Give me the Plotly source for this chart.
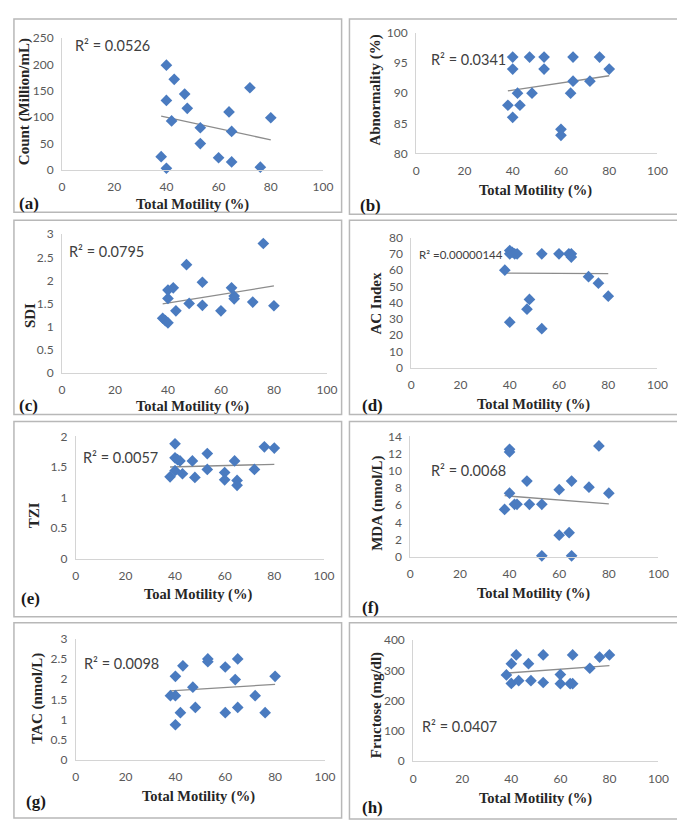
import plotly.graph_objects as go

# ---------------- data ----------------
trend_x = [38, 80]

a_x = [38, 40, 40, 40, 42, 43, 47, 48, 53, 53, 60, 64, 65, 65, 72, 76, 80]
a_y = [25, 199, 132, 3, 93, 172, 144, 117, 80, 50, 23, 110, 73, 15, 156, 5, 99]
a_trend = [102, 57]

b_x = [38, 40, 40, 40, 42, 43, 47, 48, 53, 53, 60, 60, 64, 65, 65, 72, 76, 80]
b_y = [88, 96, 94, 86, 90, 88, 96, 90, 96, 94, 84, 83, 90, 96, 92, 92, 96, 94]
b_trend = [90.4, 92.9]

c_x = [38, 39, 40, 40, 40, 42, 43, 47, 48, 53, 53, 60, 64, 65, 65, 72, 76, 80]
c_y = [1.18, 1.13, 1.08, 1.61, 1.79, 1.84, 1.34, 2.34, 1.50, 1.96, 1.46, 1.34, 1.84, 1.66, 1.60, 1.53, 2.80, 1.45]
c_trend = [1.49, 1.88]

d_x = [38, 40, 40, 40, 41, 42, 43, 47, 48, 53, 53, 60, 64, 65, 65, 72, 76, 80]
d_y = [60, 72, 70, 28, 71, 70, 70, 36, 42, 70, 24, 70, 70, 70, 68, 56, 52, 44]
d_trend = [58.2, 57.9]

e_x = [38, 40, 40, 40, 41, 42, 43, 47, 48, 53, 53, 60, 60, 64, 65, 65, 72, 76, 80]
e_y = [1.34, 1.88, 1.65, 1.44, 1.62, 1.60, 1.39, 1.60, 1.33, 1.72, 1.46, 1.41, 1.29, 1.60, 1.28, 1.20, 1.46, 1.83, 1.81]
e_trend = [1.50, 1.545]

f_x = [38, 40, 40, 40, 42, 43, 47, 48, 53, 53, 60, 60, 64, 65, 65, 72, 76, 80]
f_y = [5.5, 12.5, 12.2, 7.4, 6.1, 6.1, 8.8, 6.1, 6.1, 0.1, 7.8, 2.5, 2.8, 8.8, 0.1, 8.1, 12.9, 7.4]
f_trend = [7.1, 6.15]

g_x = [38, 40, 40, 40, 42, 43, 47, 48, 53, 53, 60, 60, 64, 65, 65, 72, 76, 80]
g_y = [1.59, 1.59, 2.07, 0.87, 1.17, 2.33, 1.80, 1.30, 2.50, 2.43, 2.30, 1.17, 1.99, 2.50, 1.30, 1.59, 1.17, 2.07]
g_trend = [1.71, 1.87]

h_x = [38, 40, 40, 42, 43, 47, 48, 53, 53, 60, 60, 64, 65, 65, 72, 76, 80]
h_y = [285, 257, 322, 351, 266, 322, 266, 351, 260, 286, 256, 256, 256, 351, 307, 344, 351]
h_trend = [291, 316]

y_titles = ["Count (Million/mL)", "Abnormality (%)", "SDI", "AC Index",
            "TZI", "MDA (nmol/L)", "TAC (nmol/L)", "Fructose (mg/dl)"]
x_titles = ["Total Motility (%)", "Total Motility (%)", "Total Motility (%)", "Total Motility (%)",
            "Toal Motility (%)", "Total Motility (%)", "Total Motility (%)", "Total Motility (%)"]
r2_labels = ["R² = 0.0526", "R² = 0.0341", "R² = 0.0795", "R² =0.00000144",
             "R² = 0.0057", "R² = 0.0068", "R² = 0.0098", "R² = 0.0407"]
panel_labels = ["(a)", "(b)", "(c)", "(d)", "(e)", "(f)", "(g)", "(h)"]
y_ranges = [[0, 250], [80, 100], [0, 3], [0, 80], [0, 2], [0, 14], [0, 3], [0, 400]]
y_dticks = [50, 5, 0.5, 10, 0.5, 2, 0.5, 100]
r2_pos = [(4.4, 236), (5.4, 95.6), (1.9, 2.62), (2.3, 69.3), (2.0, 1.66), (7.6, 10.0), (2.6, 2.38), (2.9, 116)]

xs = [a_x, b_x, c_x, d_x, e_x, f_x, g_x, h_x]
ys = [a_y, b_y, c_y, d_y, e_y, f_y, g_y, h_y]
trends = [a_trend, b_trend, c_trend, d_trend, e_trend, f_trend, g_trend, h_trend]

# ---------------- layout geometry (pixels) ----------------
W, H = 685, 823
# plot areas: x_left, x_right, y_top, y_bottom
areas = [
    (52, 318, 22.7, 156.7), (413, 659, 17.3, 140.0),
    (52, 322, 222.3, 363.3), (408, 659, 225.7, 358.3),
    (66, 319, 428.3, 552.7), (407, 660, 428.3, 550.7),
    (66, 320, 634.3, 757.7), (410, 660, 635.7, 759.0),
]
boxes = [
    (3, 337, 3, 200), (345, 680, 3, 202),
    (3, 337, 208, 406), (345, 680, 208, 406),
    (3, 337, 413, 612), (345, 680, 413, 612),
    (3, 337, 618, 817), (345, 680, 618, 818),
]
xtitle_pos = [(185, 192), (535, 178), (185, 398), (533, 396), (191, 589), (533, 588), (191, 795), (535, 797)]
ytitle_pos = [(14, 87), (372, 75), (20, 305), (372, 292), (23, 509), (374, 496), (27, 695), (372, 702)]
plabel_pos = [(6, 191), (354, 193), (6, 397), (356, 397), (8, 593), (356, 602), (13, 800), (356, 806)]

def px(x):
    return x / W

def py(y):
    return 1 - y / H

MARK = "#4a7bc0"
AXC = "#d4d4d4"
TICKF = dict(family="Lato, 'Liberation Sans', sans-serif", size=12, color="#595959")
TITLEF = dict(family="'Liberation Serif', serif", size=14.5, color="#262626")
YTITLEF = dict(family="'Liberation Serif', serif", size=15, color="#262626")

fig = go.Figure()
layout = dict(
    width=W, height=H, margin=dict(l=0, r=0, t=0, b=0),
    paper_bgcolor="white", plot_bgcolor="white", showlegend=False,
    annotations=[], shapes=[],
)

for i in range(8):
    n = "" if i == 0 else str(i + 1)
    xa, ya = "x" + n, "y" + n
    fig.add_trace(go.Scatter(
        x=trend_x, y=trends[i], mode="lines", xaxis=xa, yaxis=ya,
        line=dict(color="#8c8c8c", width=1.3), hoverinfo="skip"))
    fig.add_trace(go.Scatter(
        x=xs[i], y=ys[i], mode="markers", xaxis=xa, yaxis=ya, cliponaxis=False,
        marker=dict(symbol="diamond", size=9, color=MARK, line=dict(width=0))))
    x0, x1, yt, yb = areas[i]
    layout["xaxis" + n] = dict(
        domain=[px(x0), px(x1)], range=[0, 100], dtick=20, tick0=0, anchor=ya,
        showgrid=False, zeroline=False, showline=True, linecolor=AXC, linewidth=1,
        ticks="", tickfont=TICKF, ticklabelstandoff=6, fixedrange=True)
    layout["yaxis" + n] = dict(
        domain=[py(yb), py(yt)], range=y_ranges[i], dtick=y_dticks[i], tick0=y_ranges[i][0],
        anchor=xa, showgrid=False, zeroline=False, showline=True, linecolor=AXC, linewidth=1,
        ticks="", tickfont=TICKF, ticklabelstandoff=5, fixedrange=True)
    # panel border
    bx0, bx1, by0, by1 = boxes[i]
    layout["shapes"].append(dict(
        type="rect", xref="paper", yref="paper",
        x0=px(bx0), x1=px(bx1), y0=py(by1), y1=py(by0),
        line=dict(color="#b8b8b8", width=1.5), fillcolor="rgba(0,0,0,0)", layer="below"))
    # titles
    tx, ty = xtitle_pos[i]
    layout["annotations"].append(dict(
        text="<b>" + x_titles[i] + "</b>", x=px(tx), y=py(ty), xref="paper", yref="paper",
        xanchor="center", yanchor="middle", showarrow=False, font=TITLEF))
    vx, vy = ytitle_pos[i]
    layout["annotations"].append(dict(
        text="<b>" + y_titles[i] + "</b>", x=px(vx), y=py(vy), xref="paper", yref="paper",
        xanchor="center", yanchor="middle", showarrow=False, textangle=-90, font=YTITLEF))
    lx, ly = plabel_pos[i]
    layout["annotations"].append(dict(
        text="<b>" + panel_labels[i] + "</b>", x=px(lx), y=py(ly), xref="paper", yref="paper",
        xanchor="left", yanchor="middle", showarrow=False,
        font=dict(family="'Liberation Serif', serif", size=17, color="#1a1a1a")))
    rx, ry = r2_pos[i]
    layout["annotations"].append(dict(
        text=r2_labels[i], x=rx, y=ry, xref=xa, yref=ya, xanchor="left", yanchor="middle",
        showarrow=False,
        font=dict(family="Lato, 'Liberation Sans', sans-serif", size=11.5 if i == 3 else 14.5, color="#404040")))

fig.update_layout(**layout)
fig.write_html("out.html")
